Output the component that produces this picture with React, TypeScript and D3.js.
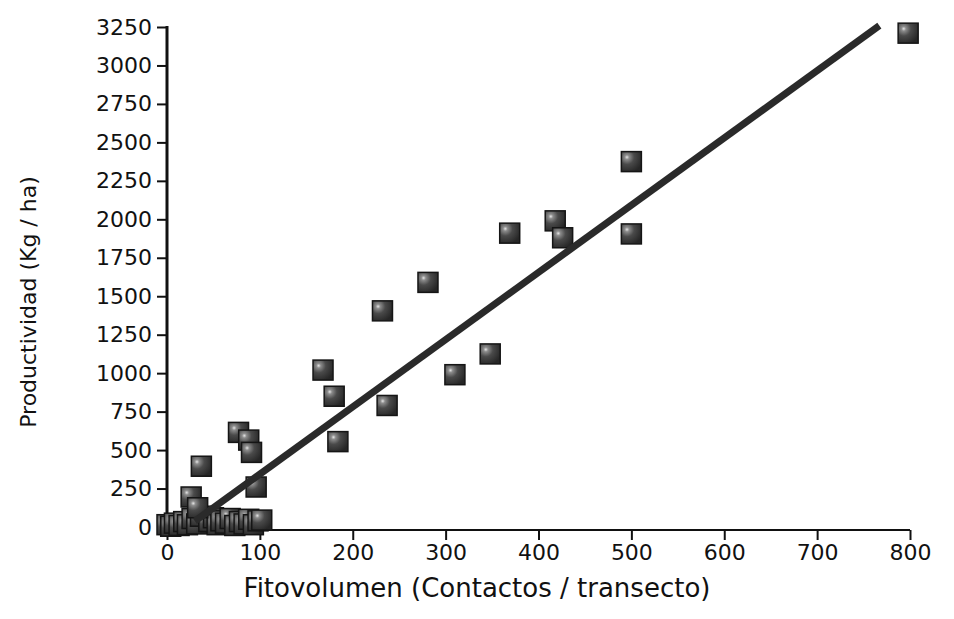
import React, { useEffect, useRef } from "react";
import * as d3 from "d3";

// Fitovolumen (contactos / transecto) per sample
const fitovolumen = [
  798, 500, 500, 418, 426, 369, 281, 232, 310, 348, 168, 180, 237, 184, 77, 88, 91, 37, 96, 26,
  0, 4, 8, 13, 18, 22, 27, 32, 36, 45, 50, 54, 58, 63, 68, 73, 78, 83, 88, 93, 98, 102, 33,
];
// Productividad (kg / ha) per sample
const productividad = [
  3210, 2375, 1905, 1990, 1880, 1910, 1590, 1405, 990, 1125, 1020, 850, 790, 555, 615, 565, 485, 395, 260, 195,
  15, 5, 25, 10, 35, 15, 55, 20, 70, 35, 60, 15, 40, 25, 55, 10, 35, 20, 50, 15, 40, 45, 125,
];

// Linear fit
const fitSlope = 4.37;
const fitIntercept = -93;
const fitRange = [30, 767];

const xTicks = [0, 100, 200, 300, 400, 500, 600, 700, 800];
const yTicks = [0, 250, 500, 750, 1000, 1250, 1500, 1750, 2000, 2250, 2500, 2750, 3000, 3250];

const W = 954;
const H = 619;
const FONT = "'DejaVu Sans', sans-serif";

export default function App() {
  const ref = useRef<SVGSVGElement | null>(null);

  useEffect(() => {
    const svg = d3.select(ref.current);
    svg.selectAll("*").remove();

    const x = d3.scaleLinear().domain([0, 800]).range([167, 910]);
    const y = d3.scaleLinear().domain([0, 3250]).range([527, 27]);
    const axisY = 530;

    const defs = svg.append("defs");
    const grad = defs
      .append("radialGradient")
      .attr("id", "mk")
      .attr("cx", "28%")
      .attr("cy", "28%")
      .attr("r", "80%");
    grad.append("stop").attr("offset", "0%").attr("stop-color", "#e6e6e6");
    grad.append("stop").attr("offset", "14%").attr("stop-color", "#8c8c8c");
    grad.append("stop").attr("offset", "45%").attr("stop-color", "#4a4a4a");
    grad.append("stop").attr("offset", "100%").attr("stop-color", "#262626");

    // y axis
    const gy = svg.append("g").attr("transform", `translate(${x(0)},0)`);
    gy.call(
      d3
        .axisLeft(y)
        .tickValues(yTicks)
        .tickSize(10)
        .tickPadding(5)
        .tickFormat((d) => String(d))
    );
    gy.select(".domain").remove();
    gy.selectAll(".tick line").attr("stroke", "#111").attr("stroke-width", 2);
    gy.selectAll(".tick text")
      .attr("font-family", FONT)
      .attr("font-size", 22)
      .attr("fill", "#111");

    // x axis
    const gx = svg.append("g").attr("transform", `translate(0,${axisY})`);
    gx.call(
      d3
        .axisBottom(x)
        .tickValues(xTicks)
        .tickSize(10)
        .tickPadding(4)
        .tickFormat((d) => String(d))
    );
    gx.select(".domain").remove();
    gx.selectAll(".tick line").attr("stroke", "#111").attr("stroke-width", 2);
    gx.selectAll(".tick text")
      .attr("font-family", FONT)
      .attr("font-size", 22)
      .attr("fill", "#111");

    // axis lines
    svg
      .append("line")
      .attr("x1", x(0))
      .attr("x2", x(0))
      .attr("y1", y(3250) - 1)
      .attr("y2", axisY)
      .attr("stroke", "#111")
      .attr("stroke-width", 3);
    svg
      .append("line")
      .attr("x1", x(0))
      .attr("x2", x(800))
      .attr("y1", axisY)
      .attr("y2", axisY)
      .attr("stroke", "#111")
      .attr("stroke-width", 2);

    // markers
    const pts = fitovolumen.map((v, i) => ({ fx: v, py: productividad[i] }));
    const s = 20;
    svg
      .append("g")
      .selectAll("rect")
      .data(pts)
      .join("rect")
      .attr("x", (d) => x(d.fx) - s / 2)
      .attr("y", (d) => y(d.py) - s / 2)
      .attr("width", s)
      .attr("height", s)
      .attr("fill", "url(#mk)")
      .attr("stroke", "#151515")
      .attr("stroke-width", 1.5);

    // regression line
    const line = d3
      .line<number>()
      .x((d) => x(d))
      .y((d) => y(fitSlope * d + fitIntercept));
    svg
      .append("path")
      .attr("d", line(fitRange))
      .attr("stroke", "#2a2a2a")
      .attr("stroke-width", 7)
      .attr("fill", "none");

    // axis titles
    svg
      .append("text")
      .attr("x", 477)
      .attr("y", 597)
      .attr("text-anchor", "middle")
      .attr("font-family", FONT)
      .attr("font-size", 26)
      .attr("fill", "#111")
      .text("Fitovolumen (Contactos / transecto)");
    svg
      .append("text")
      .attr("transform", `translate(36,302) rotate(-90)`)
      .attr("text-anchor", "middle")
      .attr("font-family", FONT)
      .attr("font-size", 22)
      .attr("fill", "#111")
      .text("Productividad (Kg / ha)");
  }, []);

  return (
    <svg
      ref={ref}
      width={W}
      height={H}
      style={{ position: "absolute", left: 0, top: 0, background: "#fff" }}
    />
  );
}
